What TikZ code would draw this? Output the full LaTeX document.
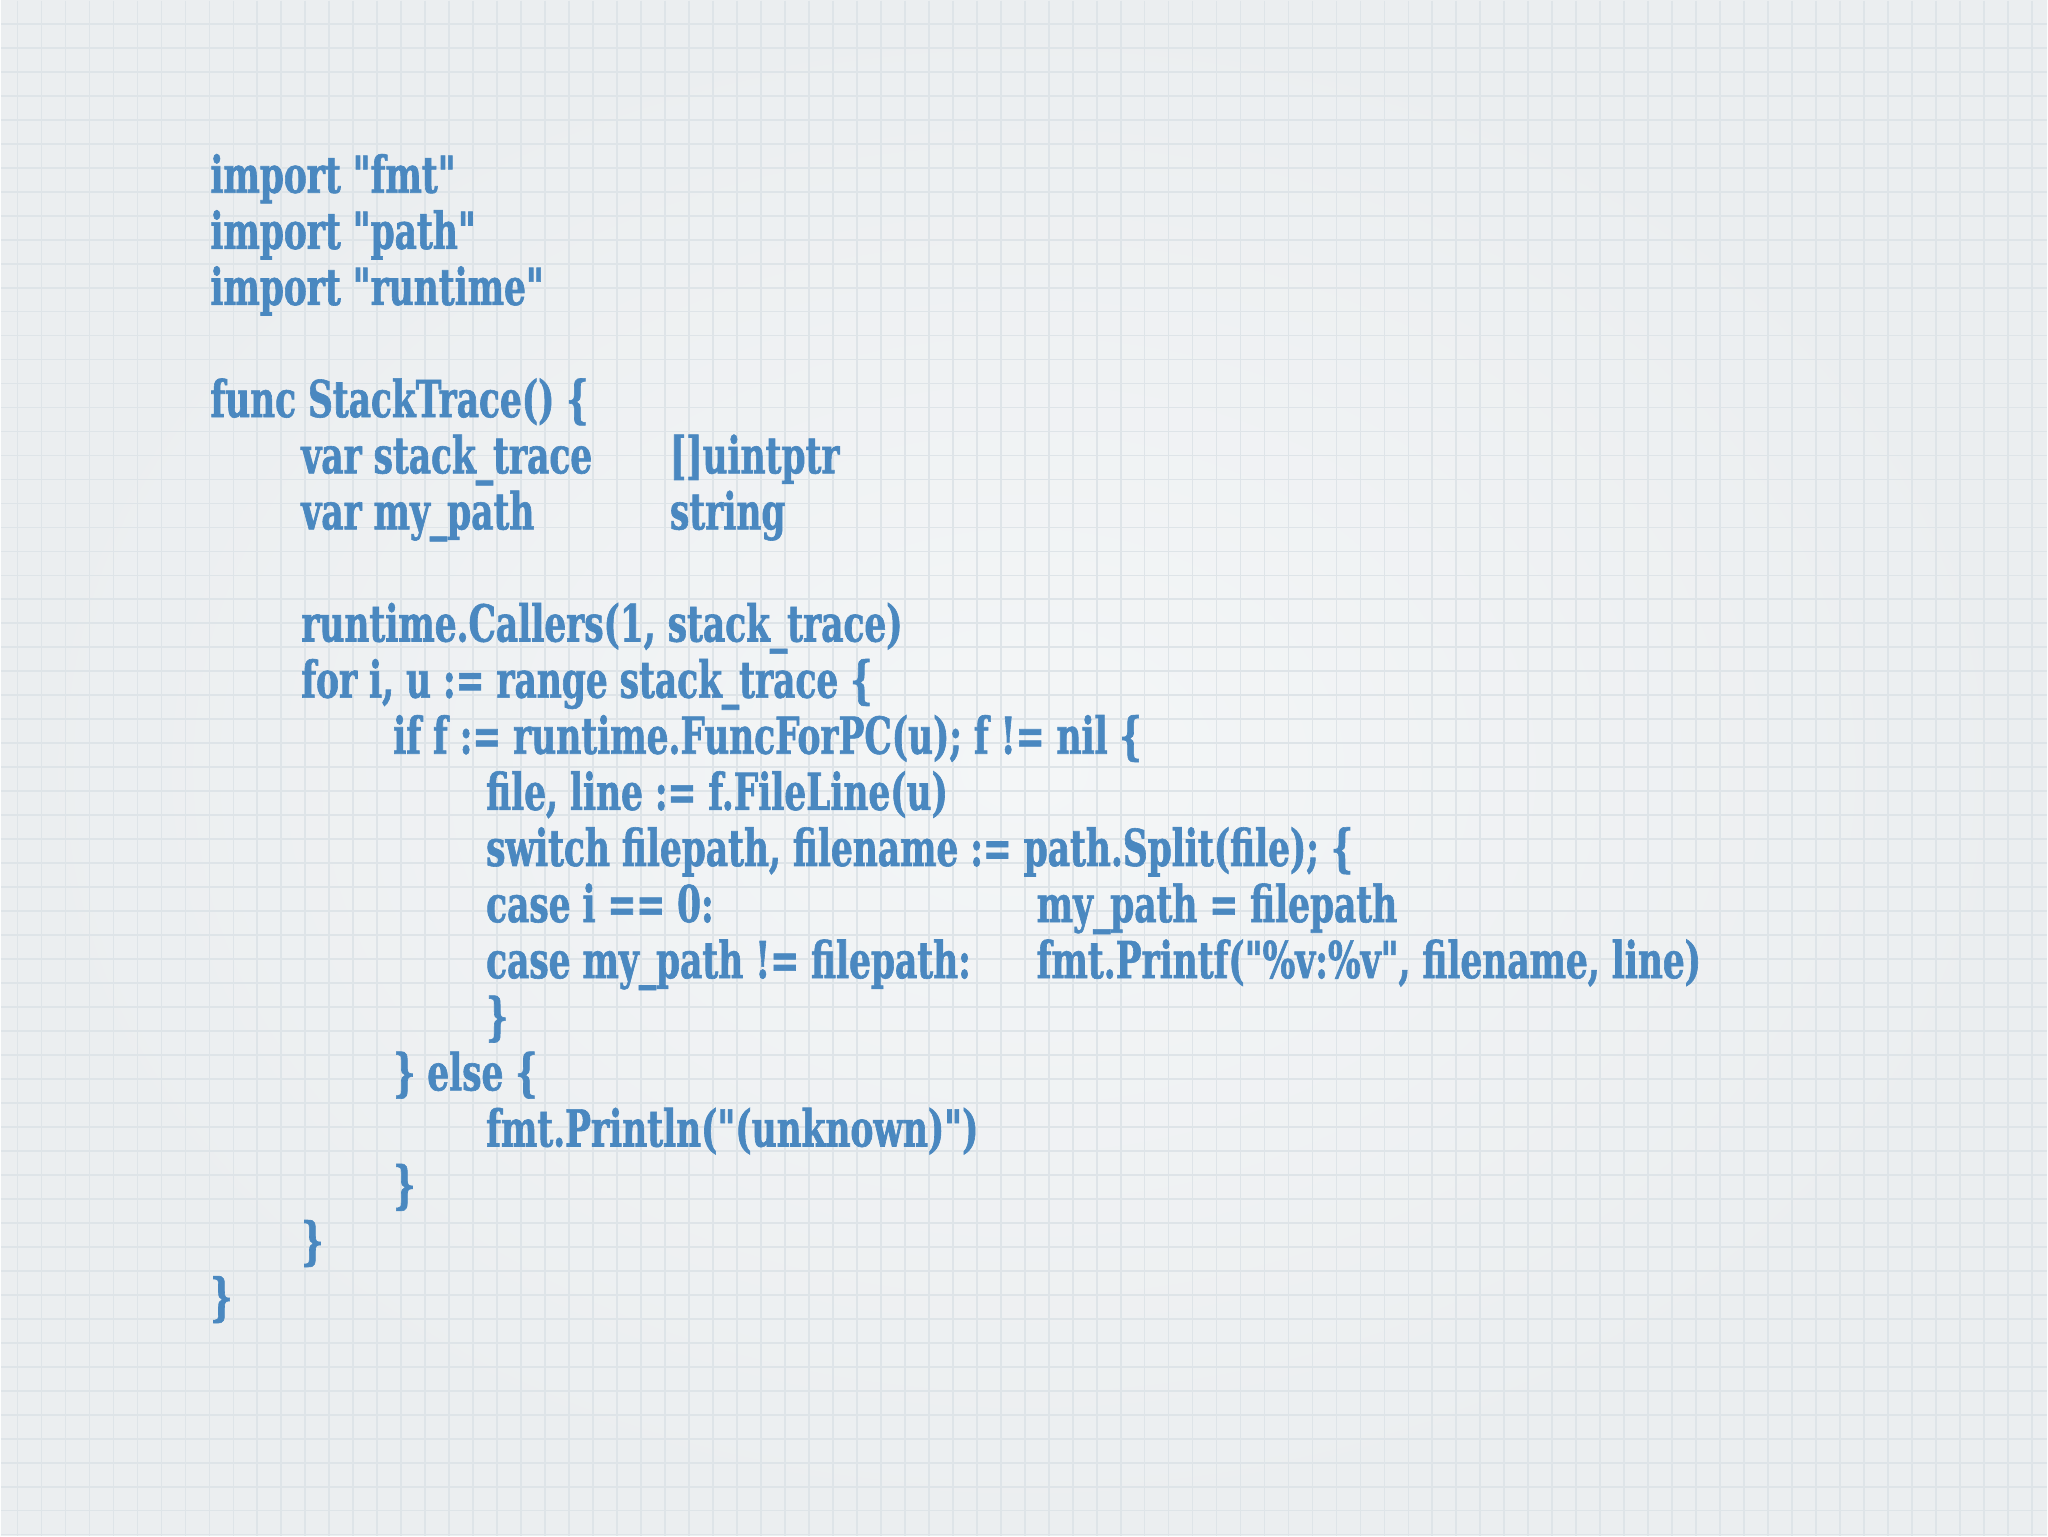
\documentclass[tikz,border=0pt]{standalone}
\usepackage{fontspec}
\usepackage{tikz}
\usetikzlibrary{positioning}
\newfontfamily\codefont{DejaVu Serif Condensed}[BoldFont={DejaVu Serif Condensed Bold}, BoldFeatures={FakeBold=1.2}, FakeStretch=0.75]
\definecolor{codeblue}{RGB}{74,136,192}
\definecolor{paper}{RGB}{235,238,240}
\definecolor{papermid}{RGB}{244,246,247}
\definecolor{gridline}{RGB}{222,228,232}
\tikzset{
    code/.style={anchor=base west, inner sep=0pt, text=codeblue, font=\codefont\bfseries\fontsize{14.5}{16}\selectfont},
    gridrule/.style={gridline, line width=0.5pt}
}

\begin{document}
\begin{tikzpicture}[x=0.01cm, y=-0.01cm]
    % paper with grid
    \shade[inner color=papermid, outer color=paper] (0,0) rectangle (2048,1536);
    \foreach \k in {0,...,84} {
        \draw[gridrule] (16.7+24*\k,0) -- (16.7+24*\k,1536);
    }
    \foreach \k in {0,...,63} {
        \draw[gridrule] (0,23+24*\k) -- (2048,23+24*\k);
    }
    \useasboundingbox (0,0) rectangle (2048,1536);

    % code lines
    \node[code] (imp1) at (209,192) {import "fmt"};
    \node[code] (imp2) at (209,248.2) {import "path"};
    \node[code] (imp3) at (209,304.3) {import "runtime"};
    \node[code] (func) at (209,416.6) {func StackTrace() \{};
    \node[code] (var1) at (300,472.8) {var stack\_trace};
    \node[code] (typ1) at (669,472.8) {[]uintptr};
    \node[code] (var2) at (300,528.9) {var my\_path};
    \node[code] (typ2) at (669,528.9) {string};
    \node[code] (call) at (300,641.2) {runtime.Callers(1, stack\_trace)};
    \node[code] (loop) at (300,697.4) {for i, u := range stack\_trace \{};
    \node[code] (cond) at (392,753.5) {if f := runtime.FuncForPC(u); f != nil \{};
    \node[code] (file) at (485,809.7) {file, line := f.FileLine(u)};
    \node[code] (swch) at (485,865.8) {switch filepath, filename := path.Split(file); \{};
    \node[code] (cas1) at (485,922) {case i == 0:};
    \node[code] (act1) at (1036,922) {my\_path = filepath};
    \node[code] (cas2) at (485,978.1) {case my\_path != filepath:};
    \node[code] (act2) at (1036,978.1) {fmt.Printf("\%v:\%v", filename, line)};
    \node[code] (end1) at (485,1034.3) {\}};
    \node[code] (els) at (392,1090.4) {\} else \{};
    \node[code] (prnt) at (485,1146.6) {fmt.Println("(unknown)")};
    \node[code] (end2) at (392,1202.7) {\}};
    \node[code] (end3) at (300,1258.9) {\}};
    \node[code] (end4) at (209,1315) {\}};
\end{tikzpicture}
\end{document}
